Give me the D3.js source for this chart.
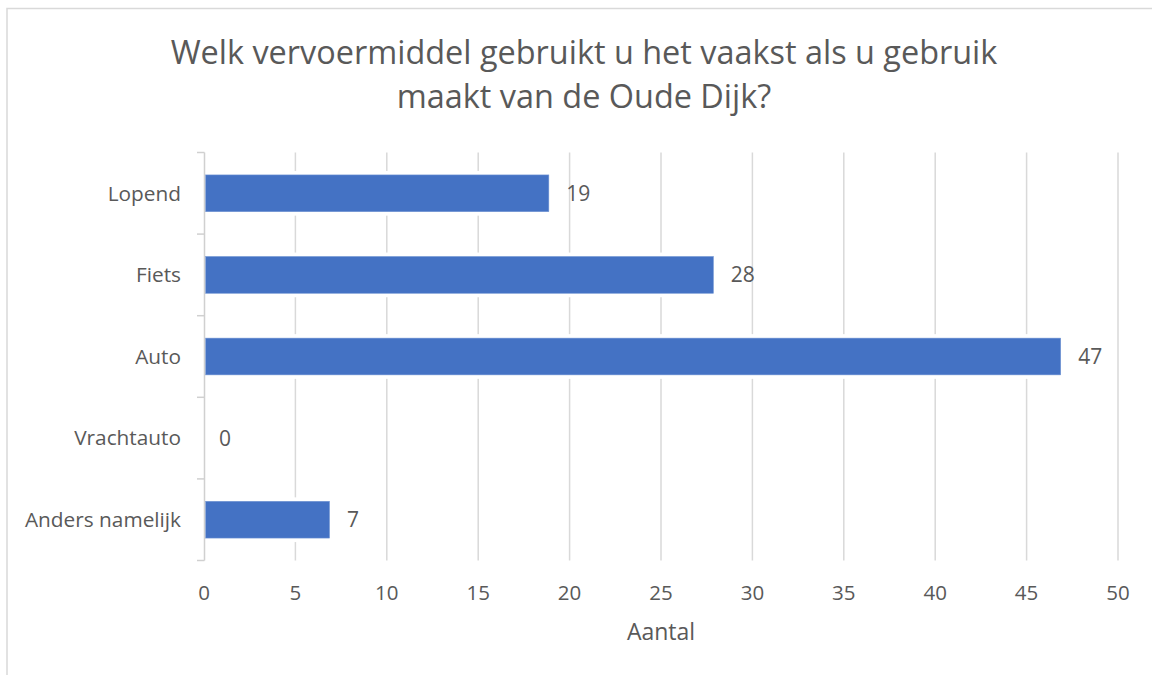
<!DOCTYPE html>
<html>
<head>
<meta charset="utf-8">
<script src="https://cdn.jsdelivr.net/npm/d3@7"></script>
<style>
  body { margin: 0; background: #fff; }
  svg text { font-family: "Open Sans", "Noto Sans", sans-serif; fill: #595959; }
</style>
</head>
<body>
<div id="chart"></div>
<script>
const titleLines = ["Welk vervoermiddel gebruikt u het vaakst als u gebruik", "maakt van de Oude Dijk?"];
const categories = ["Lopend", "Fiets", "Auto", "Vrachtauto", "Anders namelijk"];
const values = [19, 28, 47, 0, 7];
const xTicks = [0, 5, 10, 15, 20, 25, 30, 35, 40, 45, 50];
const xLabel = "Aantal";

const width = 1152, height = 675;
const plot = { left: 204, right: 1118, top: 152.5, bottom: 560.5 };

const svg = d3.select("#chart")
  .append("svg")
  .attr("width", width)
  .attr("height", height);

// rand om de grafiek
svg.append("rect")
  .attr("x", 7).attr("y", 8.5)
  .attr("width", 1160).attr("height", 700)
  .attr("fill", "#fff")
  .attr("stroke", "#d9d9d9")
  .attr("stroke-width", 1.5);

const x = d3.scaleLinear().domain([0, 50]).range([plot.left, plot.right]);
const y = d3.scaleBand().domain(categories).range([plot.top, plot.bottom]).paddingInner(0.55).paddingOuter(0.275);

// titel, breedte aanpassen aan het origineel
const title = svg.append("g");
const t1 = title.append("text")
  .attr("x", 584).attr("y", 63.5)
  .attr("text-anchor", "middle")
  .style("font-size", "32px")
  .text(titleLines[0]);
const fs = 32 * 827 / t1.node().getComputedTextLength();
t1.style("font-size", fs + "px");
title.append("text")
  .attr("x", 584).attr("y", 108)
  .attr("text-anchor", "middle")
  .style("font-size", fs + "px")
  .text(titleLines[1]);

// rasterlijnen
svg.append("g")
  .selectAll("line")
  .data(xTicks.slice(1))
  .enter()
  .append("line")
  .attr("x1", d => x(d)).attr("x2", d => x(d))
  .attr("y1", plot.top).attr("y2", plot.bottom)
  .attr("stroke", "#d9d9d9")
  .attr("stroke-width", 1.5);

// balken met witte rand
const rows = categories.map((c, i) => ({ cat: c, val: values[i] }));
svg.append("g")
  .selectAll("rect")
  .data(rows.filter(d => d.val > 0))
  .enter()
  .append("rect")
  .attr("x", x(0))
  .attr("y", d => y(d.cat) - 4)
  .attr("width", d => x(d.val) - x(0) + 2)
  .attr("height", y.bandwidth() + 8)
  .attr("fill", "#fff");

svg.append("g")
  .selectAll("rect")
  .data(rows)
  .enter()
  .append("rect")
  .attr("x", x(0) + 1.5)
  .attr("y", d => y(d.cat))
  .attr("width", d => Math.max(0, x(d.val) - x(0) - 4))
  .attr("height", y.bandwidth())
  .attr("fill", "#4472c4")
  .attr("stroke", "#6f93d3")
  .attr("stroke-width", 0.6);

// y-as met streepjes tussen de categorieen
const step = y.step();
const bounds = d3.range(categories.length + 1).map(i => plot.top + i * step);
const yAxis = svg.append("g");
yAxis.append("line")
  .attr("x1", plot.left + 0.5).attr("x2", plot.left + 0.5)
  .attr("y1", plot.top).attr("y2", plot.bottom)
  .attr("stroke", "#d0d0d0")
  .attr("stroke-width", 1.5);
yAxis.selectAll(".tick")
  .data(bounds)
  .enter()
  .append("line")
  .attr("x1", plot.left - 7).attr("x2", plot.left + 0.5)
  .attr("y1", d => d).attr("y2", d => d)
  .attr("stroke", "#d0d0d0")
  .attr("stroke-width", 1.5);

yAxis.selectAll("text")
  .data(categories)
  .enter()
  .append("text")
  .attr("x", 181)
  .attr("y", d => y(d) + y.bandwidth() / 2)
  .attr("dy", "0.35em")
  .attr("text-anchor", "end")
  .style("font-size", "20.8px")
  .text(d => d);

// waardelabels
svg.append("g")
  .selectAll("text")
  .data(rows)
  .enter()
  .append("text")
  .attr("x", d => x(d.val) + 15)
  .attr("y", d => y(d.cat) + y.bandwidth() / 2)
  .attr("dy", "0.36em")
  .style("font-size", "21px")
  .text(d => d.val);

// x-as labels
svg.append("g")
  .selectAll("text")
  .data(xTicks)
  .enter()
  .append("text")
  .attr("x", d => x(d))
  .attr("y", 600)
  .attr("text-anchor", "middle")
  .style("font-size", "20.5px")
  .text(d => d);

svg.append("text")
  .attr("x", (plot.left + plot.right) / 2)
  .attr("y", 640)
  .attr("text-anchor", "middle")
  .style("font-size", "23px")
  .text(xLabel);
</script>
</body>
</html>
